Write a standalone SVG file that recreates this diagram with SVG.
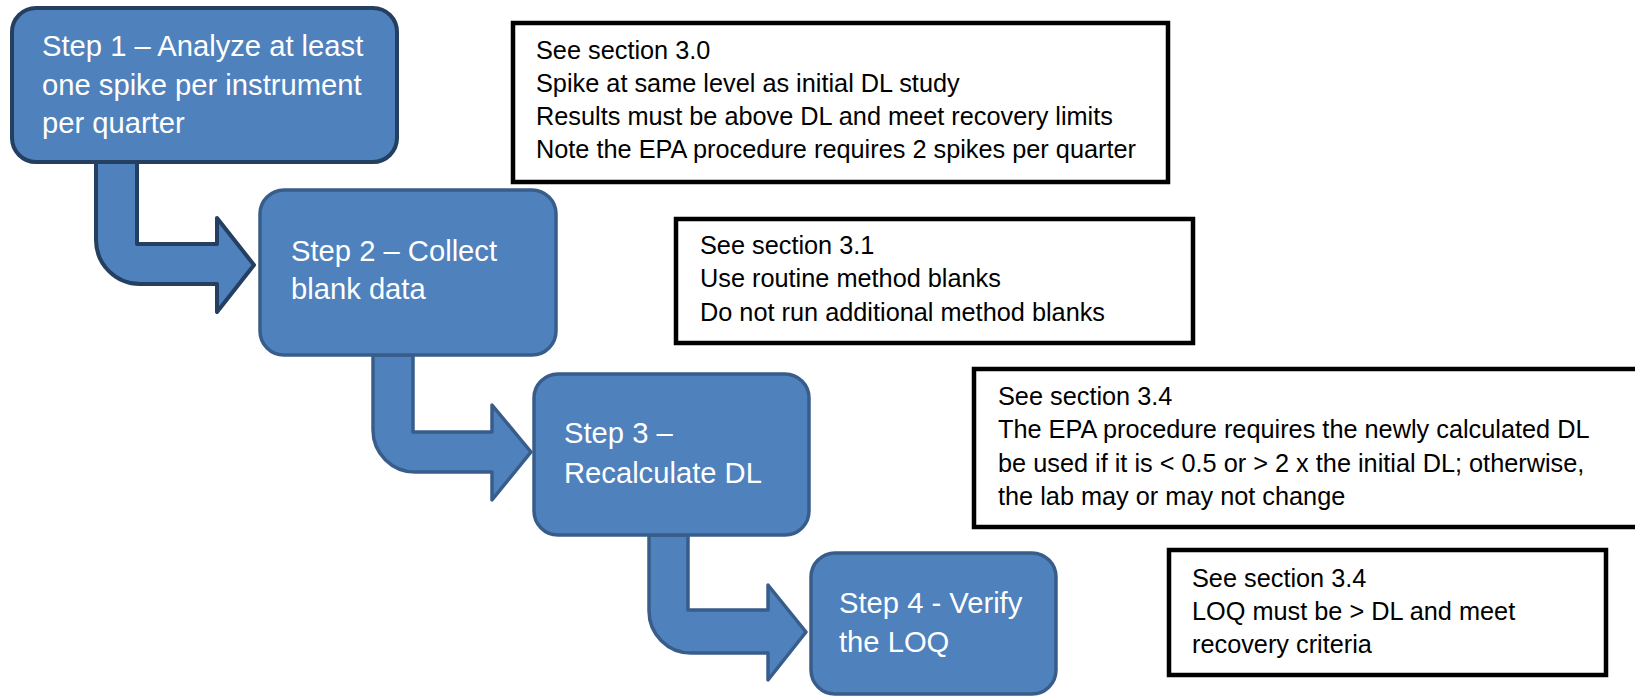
<svg xmlns="http://www.w3.org/2000/svg" width="1635" height="696" viewBox="0 0 1635 696">
<style>
.step{fill:#4f81bd;stroke:#385d8a;stroke-width:3.5}
.step1{stroke:#243f60;stroke-width:4}
.arrow{fill:#4f81bd;stroke:#385d8a;stroke-width:3.5;stroke-linejoin:round}
.arrow1{stroke:#243f60;stroke-width:4}
.st{font-family:"Liberation Sans",Arial,sans-serif;font-size:29.2px;fill:#ffffff}
.note{fill:#ffffff;stroke:#000000;stroke-width:4.5}
.nt{font-family:"Liberation Sans",Arial,sans-serif;font-size:25.3px;fill:#000000}
</style>
<rect width="1635" height="696" fill="#ffffff"/>
<g id="connectors">
<path class="arrow arrow1" d="M96,162 L137,162 L137,244 L217,244 L217,218 L254,265 L217,312 L217,284 L140,284 A44,44 0 0 1 96,240 Z"/>
<path class="arrow" d="M373,355 L413,355 L413,432 L492,432 L492,405 L531,452 L492,500 L492,472 L415,472 A42,42 0 0 1 373,430 Z"/>
<path class="arrow" d="M649,535 L688,535 L688,610 L768,610 L768,585 L806,632 L768,680 L768,653 L691,653 A42,42 0 0 1 649,611 Z"/>
</g>
<g id="step1">
<rect class="step step1" x="12" y="8" width="385" height="154" rx="24"/>
<text class="st" x="42" y="56">Step 1 – Analyze at least</text>
<text class="st" x="42" y="95">one spike per instrument</text>
<text class="st" x="42" y="133">per quarter</text>
</g>
<g id="step2">
<rect class="step" x="260" y="190" width="296" height="165" rx="24"/>
<text class="st" x="291" y="261">Step 2 – Collect</text>
<text class="st" x="291" y="299">blank data</text>
</g>
<g id="step3">
<rect class="step" x="534" y="374" width="275" height="161" rx="24"/>
<text class="st" x="564" y="443">Step 3 –</text>
<text class="st" x="564" y="483">Recalculate DL</text>
</g>
<g id="step4">
<rect class="step" x="811" y="553" width="245" height="141" rx="24"/>
<text class="st" x="839" y="613">Step 4 - Verify</text>
<text class="st" x="839" y="652">the LOQ</text>
</g>
<g id="note1">
<rect class="note" x="513" y="23" width="655" height="159"/>
<text class="nt" x="536" y="59">See section 3.0</text>
<text class="nt" x="536" y="92">Spike at same level as initial DL study</text>
<text class="nt" x="536" y="125">Results must be above DL and meet recovery limits</text>
<text class="nt" x="536" y="158">Note the EPA procedure requires 2 spikes per quarter</text>
</g>
<g id="note2">
<rect class="note" x="676" y="219" width="517" height="124"/>
<text class="nt" x="700" y="254">See section 3.1</text>
<text class="nt" x="700" y="287">Use routine method blanks</text>
<text class="nt" x="700" y="321">Do not run additional method blanks</text>
</g>
<g id="note3">
<rect class="note" x="974" y="369" width="670" height="158"/>
<text class="nt" x="998" y="405">See section 3.4</text>
<text class="nt" x="998" y="438">The EPA procedure requires the newly calculated DL</text>
<text class="nt" x="998" y="472">be used if it is &lt; 0.5 or &gt; 2 x the initial DL; otherwise,</text>
<text class="nt" x="998" y="505">the lab may or may not change</text>
</g>
<g id="note4">
<rect class="note" x="1169" y="550" width="437" height="125"/>
<text class="nt" x="1192" y="587">See section 3.4</text>
<text class="nt" x="1192" y="620">LOQ must be &gt; DL and meet</text>
<text class="nt" x="1192" y="653">recovery criteria</text>
</g>
</svg>
